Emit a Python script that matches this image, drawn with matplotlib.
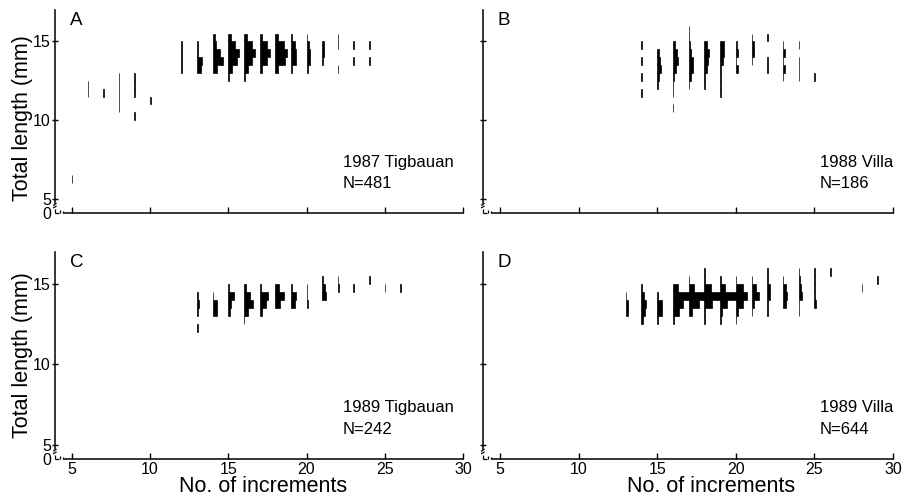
import matplotlib
matplotlib.use('Agg')
import matplotlib.pyplot as plt

plt.rcParams['font.family'] = ['Liberation Sans', 'DejaVu Sans']

# ---------------- data (length bins of 0.5 mm, counts from bin start upward) -----
# Panel A: 1987 Tigbauan, N=481
a_inc = [5, 6, 7, 8, 9, 10, 12, 13, 14, 15, 16, 17, 18, 19, 20, 21, 22, 23, 24]
a_start = [6.0, 11.5, 11.5, 10.5, 10.0, 11.0, 13.0, 13.0, 13.0, 12.5, 12.5, 13.0,
           13.0, 13.0, 13.0, 13.5, 13.0, 13.5, 13.5]
a_counts = [[1], [1, 1], [1], [1, 1, 1, 1, 1], [1, 0, 0, 1, 1, 1], [1],
            [1, 2, 1, 1], [7, 10, 2, 1], [8, 20, 15, 7, 5],
            [1, 8, 17, 21, 13, 6], [2, 8, 16, 22, 15, 5], [5, 15, 21, 14, 4],
            [6, 18, 23, 16, 6], [3, 9, 10, 8, 2], [2, 6, 7, 5, 1], [2, 4, 3],
            [1, 0, 0, 1, 1], [1, 0, 1], [1, 0, 1]]

# Panel B: 1988 Villa, N=186
b_inc = [14, 15, 16, 17, 18, 19, 20, 21, 22, 23, 24, 25]
b_start = [11.5, 12.0, 10.5, 12.0, 12.0, 11.5, 13.0, 13.5, 13.0, 12.5, 12.5, 12.5]
b_counts = [[1, 0, 1, 0, 1, 0, 1], [1, 4, 8, 6, 4],
            [1, 0, 1, 1, 2, 5, 10, 7, 4], [1, 5, 9, 8, 5, 2, 1, 1],
            [1, 1, 5, 8, 9, 5], [1, 1, 1, 2, 6, 8, 7], [5, 1, 5, 2],
            [1, 5, 4, 1], [1, 1, 0, 0, 1], [1, 3, 1, 3, 1], [1, 1, 1, 0, 1], [1]]

# Panel C: 1989 Tigbauan, N=242
c_inc = [13, 14, 15, 16, 17, 18, 19, 20, 21, 22, 23, 24, 25, 26]
c_start = [12.0, 13.0, 13.0, 12.5, 13.0, 13.5, 13.5, 13.5, 14.0, 14.5, 14.5,
           15.0, 14.5, 14.5]
c_counts = [[1, 0, 2, 4, 1], [9, 8, 1], [3, 6, 11, 2], [1, 8, 18, 11, 3],
            [4, 12, 16, 3], [9, 17, 8], [7, 10, 3], [3, 1, 1], [7, 6, 1],
            [2, 1], [1], [1], [1], [1]]

# Panel D: 1989 Villa, N=644
d_inc = [13, 14, 15, 16, 17, 18, 19, 20, 21, 22, 23, 24, 25, 26, 28, 29]
d_start = [13.0, 12.5, 12.5, 12.5, 13.0, 12.5, 12.5, 12.5, 13.0, 13.0, 13.5,
           13.0, 13.5, 15.5, 14.5, 15.0]
d_counts = [[4, 5, 1], [2, 7, 9, 4, 1], [2, 10, 9, 2], [2, 12, 20, 34, 10],
            [7, 20, 34, 10, 1], [1, 2, 15, 34, 12, 1, 1], [1, 3, 14, 32, 10, 1],
            [1, 5, 13, 21, 13, 1], [1, 5, 14, 8, 1], [1, 2, 5, 6, 1, 1],
            [6, 7, 5, 1], [1, 1, 6, 5, 3, 1], [3, 1, 1, 1, 1], [1], [1], [1]]

panel_letters = ['A', 'B', 'C', 'D']
panel_sites = ['1987 Tigbauan', '1988 Villa', '1989 Tigbauan', '1989 Villa']
panel_n = ['N=481', 'N=186', 'N=242', 'N=644']
x_ticks = [5, 10, 15, 20, 25, 30]
y_ticks = [5, 10, 15]

# ---------------- style ----------------
BIN = 0.5
SCALE = 0.033         # increment units per fish
XMIN, XMAX = 3.92, 30.0
YMIN, YMAX = 4.1, 17.0

W, H = 906, 501
fig = plt.figure(figsize=(W / 100, H / 100), dpi=100)

rects_px = [(55, 10, 463, 213), (483, 10, 893, 213),
            (55, 252, 463, 459), (483, 252, 893, 459)]
datasets = [(a_inc, a_start, a_counts), (b_inc, b_start, b_counts),
            (c_inc, c_start, c_counts), (d_inc, d_start, d_counts)]
text_x = [22.33, 25.36, 22.33, 25.36]

for i, ((l, t, r, b), (inc, start, counts)) in enumerate(zip(rects_px, datasets)):
    ax = fig.add_axes([l / W, 1 - b / H, (r - l) / W, (b - t) / H])
    ax.set_xlim(XMIN, XMAX)
    ax.set_ylim(YMIN, YMAX)

    for xi, s0, cs in zip(inc, start, counts):
        ys, ws = [], []
        for k, c in enumerate(cs):
            if c > 0:
                ys.append(s0 + BIN * k + BIN / 2)
                ws.append(c * SCALE)
        ax.barh(ys, ws, left=xi, height=BIN, color='black',
                edgecolor='black', linewidth=0.5, align='center')

    for side in ['top', 'right']:
        ax.spines[side].set_visible(False)
    ax.spines['left'].set_bounds(4.75, YMAX)
    ax.spines['bottom'].set_bounds(4.5, XMAX)
    for sp in ['left', 'bottom']:
        ax.spines[sp].set_linewidth(1.1)

    # axis breaks
    kw = dict(color='black', lw=0.9, clip_on=False, solid_capstyle='butt')
    ax.plot([XMIN, XMIN], [YMIN, 4.35], **kw)
    ax.plot([XMIN - 0.12, XMIN + 0.1], [4.42, 4.55], **kw)
    ax.plot([XMIN - 0.12, XMIN + 0.1], [4.58, 4.72], **kw)
    ax.plot([XMIN, 4.15], [YMIN, YMIN], **kw)
    ax.plot([4.25, 4.25], [YMIN, YMIN + 0.18], **kw)
    ax.plot([4.42, 4.42], [YMIN, YMIN + 0.15], **kw)

    ax.set_xticks(x_ticks)
    ax.tick_params(axis='x', direction='in', length=4, width=1, pad=2,
                   labelsize=11.5)
    if i >= 2:
        ax.set_xticklabels([str(v) for v in x_ticks])
        ax.set_xlabel('No. of increments', fontsize=15.5, va='center')
        ax.xaxis.set_label_coords(0.51 if i == 2 else 0.556, -0.135)
    else:
        ax.set_xticklabels([])

    ax.set_yticks([YMIN] + y_ticks)
    ax.tick_params(axis='y', direction='inout', length=4, width=1, pad=1,
                   labelsize=11.5)
    if i % 2 == 0:
        ax.set_yticklabels(['0'] + [str(v) for v in y_ticks])
        ax.set_ylabel('Total length (mm)', fontsize=15.5, va='center',
                      ha='center')
        ax.yaxis.set_label_coords(-0.08, 0.47 if i == 0 else 0.5)
    else:
        ax.set_yticklabels([])
    ax.yaxis.get_major_ticks()[0].tick1line.set_visible(False)

    ax.text(4.85, 16.85, panel_letters[i], fontsize=13.5, va='top', ha='left')
    ax.text(text_x[i], 7.3, panel_sites[i], fontsize=12, va='center', ha='left')
    ax.text(text_x[i], 5.95, panel_n[i], fontsize=12, va='center', ha='left')

fig.savefig('out.png', dpi=100)
